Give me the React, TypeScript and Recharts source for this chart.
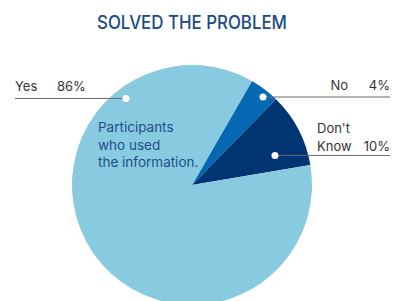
import React from "react";
import { PieChart, Pie, Cell } from "recharts";

const categories = ["No", "Don't Know", "Yes"];
const values = [4, 10, 86];
const valueLabels = ["4%", "10%", "86%"];
const colors = ["#0568B3", "#003473", "#88CBE0"];
const title = "SOLVED THE PROBLEM";
const noteLines = ["Participants", "who used", "the information."];

const data = categories.map((name, i) => ({ name, value: values[i], label: valueLabels[i] }));

// callout dot placement (polar, relative to the pie) and side
const callouts = [
  { angle: 51.1, rFrac: 0.942, side: "right" },
  { angle: 19.6, rFrac: 0.734, side: "right" },
  { angle: 127.35, rFrac: 0.907, side: "left" },
];

const RAD = Math.PI / 180;
const FONT = "Inter, 'Open Sans', sans-serif";
const TEXT_COLOR = "#333333";

const renderLabel = (props: any) => {
  const { cx, cy, outerRadius, index } = props;
  const c = callouts[index];
  const r = outerRadius * c.rFrac;
  const x = cx + r * Math.cos(c.angle * RAD);
  const y = cy - r * Math.sin(c.angle * RAD);
  const d = data[index];
  const common = { fontFamily: FONT, fontSize: 13, fill: TEXT_COLOR };
  if (c.side === "left") {
    return (
      <g key={`lbl-${index}`}>
        <line x1={15} y1={y} x2={x} y2={y} stroke="#6b6b6b" strokeWidth={1} />
        <circle cx={x} cy={y} r={3.5} fill="#ffffff" />
        <text x={15} y={y - 7.5} {...common}>{d.name}</text>
        <text x={57} y={y - 7.5} {...common}>{d.label}</text>
      </g>
    );
  }
  const multi = d.name.includes(" ");
  const words = d.name.split(" ");
  return (
    <g key={`lbl-${index}`}>
      <line x1={x} y1={y} x2={390} y2={y} stroke="#6b6b6b" strokeWidth={1} />
      <circle cx={x} cy={y} r={3.5} fill="#ffffff" />
      {multi ? (
        <>
          <text x={317} y={y - 22.5} {...common}>{words[0]}</text>
          <text x={317} y={y - 4.5} {...common}>{words[1]}</text>
          <text x={390} y={y - 4.5} textAnchor="end" {...common}>{d.label}</text>
        </>
      ) : (
        <>
          <text x={348} y={y - 7} textAnchor="end" {...common}>{d.name}</text>
          <text x={390} y={y - 7} textAnchor="end" {...common}>{d.label}</text>
        </>
      )}
    </g>
  );
};

export default function App() {
  return (
    <div style={{ position: "absolute", left: 0, top: 0, width: 404, height: 301, background: "#fff", overflow: "hidden" }}>
      <PieChart width={404} height={301} margin={{ top: 0, right: 0, bottom: 0, left: 0 }}>
        <Pie
          data={data}
          dataKey="value"
          nameKey="name"
          cx={192}
          cy={185}
          outerRadius={120}
          startAngle={60}
          endAngle={-300}
          stroke="none"
          isAnimationActive={false}
          labelLine={false}
          label={renderLabel}
        >
          {data.map((d, i) => (
            <Cell key={d.name} fill={colors[i]} />
          ))}
        </Pie>
      </PieChart>
      <svg width={404} height={301} style={{ position: "absolute", left: 0, top: 0, pointerEvents: "none" }}>
        <text x={97} y={28.5} textLength={190} lengthAdjust="spacingAndGlyphs" fontFamily={FONT} fontSize={18.5} fontWeight={500} fill="#1B4A85">
          {title}
        </text>
        {noteLines.map((t, i) => (
          <text key={t} x={98} y={132 + i * 17.5} fontFamily={FONT} fontSize={13.5} fill="#1F4E89">
            {t}
          </text>
        ))}
      </svg>
    </div>
  );
}
